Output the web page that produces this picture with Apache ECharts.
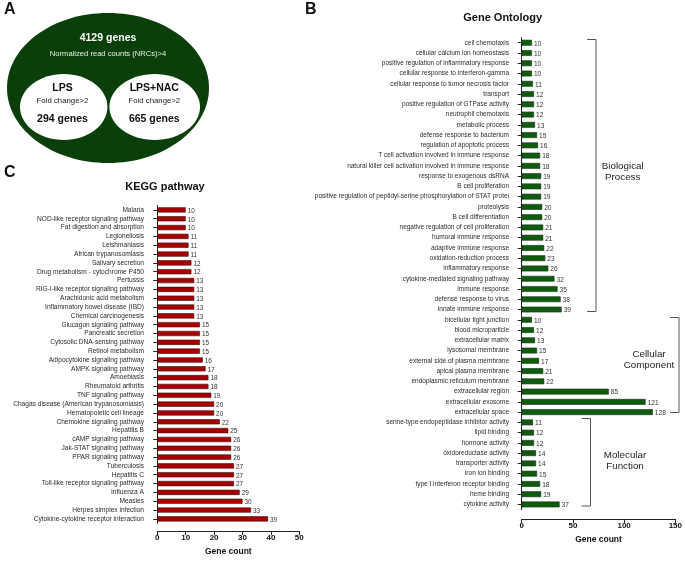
<!DOCTYPE html>
<html>
<head>
<meta charset="utf-8">
<script src="https://cdn.jsdelivr.net/npm/echarts@6/dist/echarts.min.js"></script>
<style>html,body{margin:0;padding:0;background:#fff;}#c{width:685px;height:561px;}</style>
</head>
<body>
<div id="c"></div>
<script>
var goCategories = [
  "cell chemotaxis","cellular calcium ion homeostasis","positive regulation of inflammatory response",
  "cellular response to interferon-gamma","cellular response to tumor necrosis factor","transport",
  "positive regulation of GTPase activity","neutrophil chemotaxis","metabolic process",
  "defense response to bacterium","regulation of apoptotic process","T cell activation involved in immune response",
  "natural killer cell activation involved in immune response","response to exogenous dsRNA","B cell proliferation",
  "positive regulation of peptidyl-serine phosphorylation of STAT protei","proteolysis","B cell differentiation",
  "negative regulation of cell proliferation","humoral immune response","adaptive immune response",
  "oxidation-reduction process","inflammatory response","cytokine-mediated signaling pathway",
  "immune response","defense response to virus","innate immune response",
  "bicellular tight junction","blood microparticle","extracellular matrix","lysosomal membrane",
  "external side of plasma membrane","apical plasma membrane","endoplasmic reticulum membrane",
  "extracellular region","extracellular exosome","extracellular space",
  "serine-type endopeptidase inhibitor activity","lipid binding","hormone activity","oxidoreductase activity",
  "transporter activity","iron ion binding","type I interferon receptor binding","heme binding","cytokine activity"
];
var goValues = [10,10,10,10,11,12,12,12,13,15,16,18,18,19,19,19,20,20,21,21,22,23,26,32,35,38,39,
  10,12,13,15,17,21,22,85,121,128,
  11,12,12,14,14,15,18,19,37];
var goXTicks = [0,50,100,150];

var keggCategories = [
  "Malaria","NOD-like receptor signaling pathway","Fat digestion and absorption","Legionellosis","Leishmaniasis",
  "African trypanosomiasis","Salivary secretion","Drug metabolism - cytochrome P450","Pertussis",
  "RIG-I-like receptor signaling pathway","Arachidonic acid metabolism","Inflammatory bowel disease (IBD)",
  "Chemical carcinogenesis","Glucagon signaling pathway","Pancreatic secretion","Cytosolic DNA-sensing pathway",
  "Retinol metabolism","Adipocytokine signaling pathway","AMPK signaling pathway","Amoebiasis","Rheumatoid arthritis",
  "TNF signaling pathway","Chagas disease (American trypanosomiasis)","Hematopoietic cell lineage",
  "Chemokine signaling pathway","Hepatitis B","cAMP signaling pathway","Jak-STAT signaling pathway",
  "PPAR signaling pathway","Tuberculosis","Hepatitis C","Toll-like receptor signaling pathway","Influenza A",
  "Measles","Herpes simplex infection","Cytokine-cytokine receptor interaction"
];
var keggValues = [10,10,10,11,11,11,12,12,13,13,13,13,13,15,15,15,15,16,17,18,18,19,20,20,22,25,26,26,26,27,27,27,29,30,33,39];
var keggXTicks = [0,10,20,30,40,50];

var vennTotal = "4129 genes";
var vennTotalSub = "Normalized read counts (NRCs)>4";
var vennLeft = ["LPS","Fold change>2","294 genes"];
var vennRight = ["LPS+NAC","Fold change>2","665 genes"];
var goGroups = [["Biological","Process"],["Cellular","Component"],["Molecular","Function"]];

var FF = "'Liberation Sans', Arial, sans-serif";
var chart = echarts.init(document.getElementById('c'), null, {renderer:'canvas'});

function xAxisCfg(grid, max, interval, offset){
  return {
    type:'value', gridIndex:grid, min:0, max:max, interval:interval, offset:offset,
    axisLine:{show:true, lineStyle:{color:'#222', width:1}},
    axisTick:{show:true, length:4, inside:false, lineStyle:{color:'#222', width:1}},
    splitLine:{show:false},
    axisLabel:{color:'#111', fontFamily:FF, fontWeight:'bold', fontSize:8, margin:3},
    name:'Gene count', nameLocation:'middle', nameGap:15,
    nameTextStyle:{color:'#111', fontFamily:FF, fontWeight:'bold', fontSize:8.5}
  };
}
function yAxisCfg(grid, cats, offset, fs){
  return {
    type:'category', gridIndex:grid, data:cats, inverse:true, offset:offset,
    axisLine:{show:true, lineStyle:{color:'#222', width:1}},
    axisTick:{show:true, alignWithLabel:true, length:4, lineStyle:{color:'#222', width:1}},
    axisLabel:{interval:0, color:'#2a2a2a', fontFamily:FF, fontSize:fs, margin:6}
  };
}

var option = {
  animation:false,
  grid:[
    {left:521.7, top:37.6, width:154, height:472},
    {left:157.3, top:205.5, width:142, height:325}
  ],
  xAxis:[ xAxisCfg(0,150,50,9.4), xAxisCfg(1,50,10,7.8) ],
  yAxis:[ yAxisCfg(0,goCategories,6.7,6.5), yAxisCfg(1,keggCategories,7.3,6.6) ],
  series:[
    {type:'bar', xAxisIndex:0, yAxisIndex:0, data:goValues, barWidth:5.8,
     itemStyle:{color:'#0c5c0c', borderColor:'#1c2e1c', borderWidth:0.6},
     label:{show:true, position:'right', distance:2, offset:[0,1], color:'#333', fontFamily:FF, fontSize:6.6}},
    {type:'bar', xAxisIndex:1, yAxisIndex:1, data:keggValues, barWidth:5.2,
     itemStyle:{color:'#a80000', borderColor:'#3a1010', borderWidth:0.6},
     label:{show:true, position:'right', distance:2, offset:[0,1], color:'#333', fontFamily:FF, fontSize:6.4}}
  ],
  graphic:[
    {type:'text', left:4, top:2, style:{text:'A', font:'bold 16px '+FF, fill:'#111'}},
    {type:'text', left:305, top:2, style:{text:'B', font:'bold 16px '+FF, fill:'#111'}},
    {type:'text', left:4, top:165, style:{text:'C', font:'bold 16px '+FF, fill:'#111'}},
    {type:'text', x:502.7, y:18, style:{text:'Gene Ontology', font:'bold 11px '+FF, fill:'#111', align:'center', verticalAlign:'middle'}},
    {type:'text', x:165, y:187, style:{text:'KEGG pathway', font:'bold 11px '+FF, fill:'#111', align:'center', verticalAlign:'middle'}},
    {type:'ellipse', shape:{cx:108, cy:88, rx:101, ry:75}, style:{fill:'#0a3f0a'}},
    {type:'ellipse', shape:{cx:63.7, cy:107, rx:43.7, ry:33}, style:{fill:'#ffffff'}},
    {type:'ellipse', shape:{cx:154.7, cy:107, rx:45.3, ry:33}, style:{fill:'#ffffff'}},
    {type:'text', x:108, y:38, style:{text:vennTotal, font:'bold 10.5px '+FF, fill:'#fff', align:'center', verticalAlign:'middle'}},
    {type:'text', x:108, y:54, style:{text:vennTotalSub, font:'7.6px '+FF, fill:'#e8f0e8', align:'center', verticalAlign:'middle'}},
    {type:'text', x:62.5, y:88, style:{text:vennLeft[0], font:'bold 10.5px '+FF, fill:'#111', align:'center', verticalAlign:'middle'}},
    {type:'text', x:62.5, y:101, style:{text:vennLeft[1], font:'7.8px '+FF, fill:'#222', align:'center', verticalAlign:'middle'}},
    {type:'text', x:62.5, y:119, style:{text:vennLeft[2], font:'bold 10.5px '+FF, fill:'#111', align:'center', verticalAlign:'middle'}},
    {type:'text', x:154.3, y:88, style:{text:vennRight[0], font:'bold 10.5px '+FF, fill:'#111', align:'center', verticalAlign:'middle'}},
    {type:'text', x:154.3, y:101, style:{text:vennRight[1], font:'7.8px '+FF, fill:'#222', align:'center', verticalAlign:'middle'}},
    {type:'text', x:154.3, y:119, style:{text:vennRight[2], font:'bold 10.5px '+FF, fill:'#111', align:'center', verticalAlign:'middle'}},
    {type:'polyline', shape:{points:[[587,39.5],[596,39.5],[596,311.5],[587,311.5]]}, style:{stroke:'#555', lineWidth:1, fill:null}},
    {type:'polyline', shape:{points:[[670,317.5],[679,317.5],[679,412.5],[670,412.5]]}, style:{stroke:'#555', lineWidth:1, fill:null}},
    {type:'polyline', shape:{points:[[581.5,418.5],[590.5,418.5],[590.5,506],[581.5,506]]}, style:{stroke:'#555', lineWidth:1, fill:null}},
    {type:'text', x:622.7, y:172, style:{text:goGroups[0].join('\n'), font:'9.8px '+FF, fill:'#222', align:'center', verticalAlign:'middle', lineHeight:11.5}},
    {type:'text', x:649, y:360, style:{text:goGroups[1].join('\n'), font:'9.8px '+FF, fill:'#222', align:'center', verticalAlign:'middle', lineHeight:11.5}},
    {type:'text', x:625, y:461, style:{text:goGroups[2].join('\n'), font:'9.8px '+FF, fill:'#222', align:'center', verticalAlign:'middle', lineHeight:11.5}}
  ]
};
chart.setOption(option);
</script>
</body>
</html>
